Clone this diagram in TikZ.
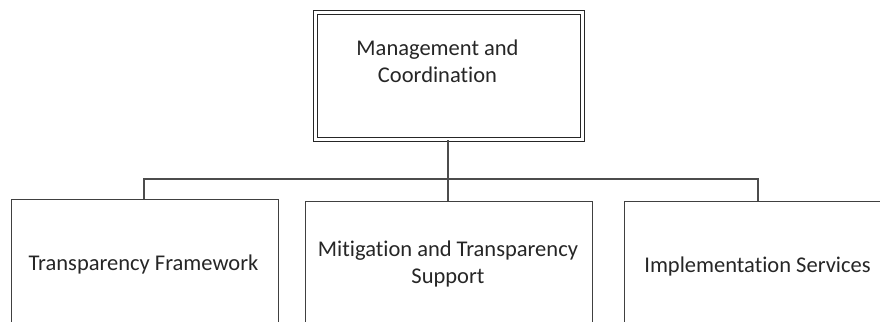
\documentclass[tikz,border=0pt]{standalone}
\usepackage{fontspec}
\setmainfont{Carlito}[Ligatures=NoCommon]
\begin{document}
\begin{tikzpicture}[x=1pt,y=-1pt,
  box/.style={draw=black!75, line width=1.3pt, rectangle, inner sep=0pt, anchor=north west},
  topbox/.style={draw=black!85, line width=1.1pt, double=white, double distance=2.4pt, rectangle, inner sep=0pt, anchor=north west},
  lbl/.style={text=black!85, font=\fontsize{22.5}{27}\selectfont, align=center, inner sep=0pt},
  conn/.style={draw=black!70, line width=1.4pt}]
\useasboundingbox (0,0) rectangle (880,321);
\clip (0,0) rectangle (880,321);
\fill[white] (0,0) rectangle (880,321);
% boxes
\node[topbox, minimum width=267pt, minimum height=127pt] (mc) at (315,12) {};
\node[box, minimum width=267pt, minimum height=150pt] (tf) at (11,199) {};
\node[box, minimum width=287pt, minimum height=150pt] (mts) at (305,201) {};
\node[box, minimum width=290pt, minimum height=150pt] (is) at (624,201) {};
% labels
\node[lbl] (mcl) at (437.5,61) {Management and\\Coordination};
\node[lbl] (tfl) at (143.5,264) {Transparency Framework};
\node[lbl] (mtsl) at (448,264) {Mitigation and Transparency\\Support};
\node[lbl] (isl) at (757.5,266) {Implementation Services};
% connectors
\coordinate (bus) at (448,179);
\draw[conn] (mc.south -| bus) -- (bus);
\draw[conn] (bus) -- (mts.north -| bus);
\draw[conn] (tf.north -| 144,0) |- (bus);
\draw[conn] (bus) -| (is.north -| 758,0);
\end{tikzpicture}
\end{document}
